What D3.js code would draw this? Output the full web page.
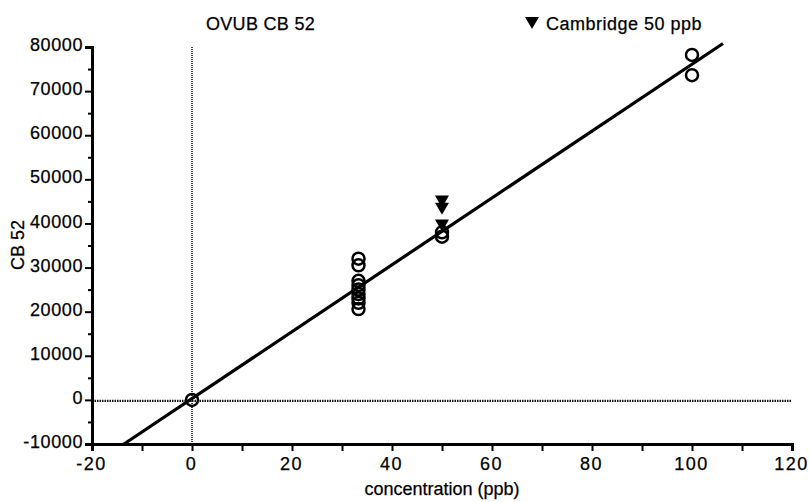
<!DOCTYPE html>
<html><head><meta charset="utf-8">
<script src="https://cdn.jsdelivr.net/npm/d3@7"></script>
<style>
body{margin:0;background:#fff;}
svg text{font-family:"Liberation Sans",Arial,Helvetica,sans-serif;fill:#000;stroke:#000;stroke-width:0.25px;}
</style></head>
<body><svg id="c" width="809" height="502"></svg>
<script>
// Data
const vubX = [0, 33.3, 33.3, 33.3, 33.3, 33.3, 33.3, 33.3, 33.3, 33.3, 50, 50, 100, 100];
const vubY = [0, 32000, 30500, 27000, 26000, 25000, 24000, 23000, 22000, 20600, 38000, 37000, 78200, 73600];
const camX = [50, 50, 50];
const camY = [45400, 43800, 40000];
const fitX = [-13.6, 106.2];
const fitY = [-10000, 80800];
const xTicks = [-20, 0, 20, 40, 60, 80, 100, 120];
const xMinor = [-10, 10, 30, 50, 70, 90, 110];
const yTicks = [-10000, 0, 10000, 20000, 30000, 40000, 50000, 60000, 70000, 80000];
const yMinor = [-5000, 5000, 15000, 25000, 35000, 45000, 55000, 65000, 75000];

const svg = d3.select("#c");
const x = d3.scaleLinear().domain([-20, 120]).range([92, 792]);
const y = d3.scaleLinear().domain([-10000, 80000]).range([444, 47]);
const fmt = d => String(d);

// zero reference lines
svg.append("line").attr("x1", x(0)).attr("x2", x(0)).attr("y1", y(80000)).attr("y2", y(-10000))
  .attr("stroke", "#111").attr("stroke-width", 1.6).attr("stroke-dasharray", "1,1");
svg.append("line").attr("x1", x(-20)).attr("x2", x(120)).attr("y1", y(0) + 1).attr("y2", y(0) + 1)
  .attr("stroke", "#111").attr("stroke-width", 2.4).attr("stroke-dasharray", "1.5,1");

// axes
const xAxis = svg.append("g").attr("transform", `translate(0,${y(-10000)})`)
  .call(d3.axisBottom(x).tickValues(xTicks).tickSize(7).tickPadding(6).tickFormat(fmt));
const xMin = svg.append("g").attr("transform", `translate(0,${y(-10000)})`)
  .call(d3.axisBottom(x).tickValues(xMinor).tickSize(7).tickFormat(""));
const yAxis = svg.append("g").attr("transform", `translate(${x(-20)},0)`)
  .call(d3.axisLeft(y).tickValues(yTicks).tickSize(7).tickPadding(2).tickFormat(fmt));
const yMin = svg.append("g").attr("transform", `translate(${x(-20)},0)`)
  .call(d3.axisLeft(y).tickValues(yMinor).tickSize(4).tickFormat(""));
[xAxis, xMin, yAxis, yMin].forEach(g => {
  g.select(".domain").attr("stroke", "#000").attr("stroke-width", 3);
  g.selectAll(".tick line").attr("stroke", "#000").attr("stroke-width", 2);
});
xAxis.selectAll("text").attr("font-size", 18).attr("letter-spacing", "1.5px").attr("dx", "-1px")
  .attr("font-family", "Liberation Sans");
yAxis.selectAll("text").attr("font-size", 18).attr("letter-spacing", "0.6px").attr("font-family", "Liberation Sans").attr("dy", "0.2em");

// fit line
svg.append("line").attr("x1", x(fitX[0])).attr("y1", y(fitY[0])).attr("x2", x(fitX[1])).attr("y2", y(fitY[1]))
  .attr("stroke", "#000").attr("stroke-width", 3.2);

// VUB circles
svg.append("g").selectAll("circle").data(vubX.map((d, i) => [d, vubY[i]])).join("circle")
  .attr("cx", d => x(d[0])).attr("cy", d => y(d[1])).attr("r", 6)
  .attr("fill", "none").attr("stroke", "#000").attr("stroke-width", 2.5);

// Cambridge triangles
const tri = d3.symbol().type(d3.symbolTriangle).size(85);
svg.append("g").selectAll("path").data(camX.map((d, i) => [d, camY[i]])).join("path")
  .attr("d", tri).attr("transform", d => `translate(${x(d[0])},${y(d[1])}) rotate(180)`)
  .attr("fill", "#000");

// legend
svg.append("text").attr("x", 206).attr("y", 30).attr("font-size", 18)
  .attr("letter-spacing", "0.3px").text("OVUB CB 52");
svg.append("path").attr("d", tri).attr("transform", "translate(532,21) rotate(180)").attr("fill", "#000");
svg.append("text").attr("x", 546).attr("y", 30).attr("font-size", 18).attr("letter-spacing", "0.5px")
  .text("Cambridge 50 ppb");

// axis titles
svg.append("text").attr("x", 442).attr("y", 495).attr("text-anchor", "middle").attr("font-size", 18)
  .text("concentration (ppb)");
svg.append("text").attr("transform", "translate(24,245) rotate(-90)").attr("text-anchor", "middle")
  .attr("font-size", 18).text("CB 52");
</script></body></html>
